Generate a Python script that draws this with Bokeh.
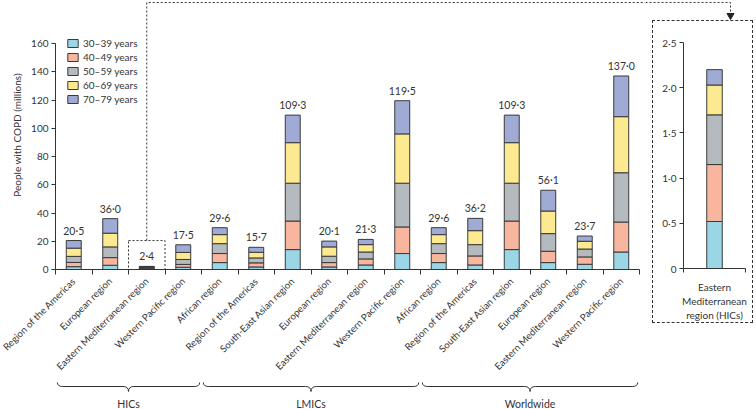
import numpy as np
from bokeh.plotting import figure
from bokeh.models import ColumnDataSource, Range1d, FixedTicker, Spacer
from bokeh.layouts import row, column
from bokeh.embed import file_html
from bokeh.resources import INLINE
from bokeh.core.properties import value

# ---------------- data ----------------
regions = ["Region of the Americas", "European region", "Eastern Mediterranean region",
           "Western Pacific region",
           "African region", "Region of the Americas", "South-East Asian region",
           "European region", "Eastern Mediterranean region", "Western Pacific region",
           "African region", "Region of the Americas", "South-East Asian region",
           "European region", "Eastern Mediterranean region", "Western Pacific region"]
groups = ["HICs"] * 4 + ["LMICs"] * 6 + ["Worldwide"] * 6
age_bands = ["30–39 years", "40–49 years", "50–59 years", "60–69 years", "70–79 years"]

age_30_39 = [2.0, 3.0, 0.52, 1.6, 4.9, 1.8, 14.1, 1.8, 3.2, 11.3, 4.9, 3.2, 14.1, 4.9, 3.7, 12.4]
age_40_49 = [3.0, 5.4, 0.63, 2.0, 6.4, 2.9, 20.2, 3.1, 4.3, 18.8, 6.4, 6.4, 20.2, 8.0, 5.2, 21.2]
age_50_59 = [4.3, 7.6, 0.55, 3.5, 7.0, 3.5, 26.8, 4.5, 4.9, 31.0, 7.0, 8.0, 26.8, 12.5, 5.6, 34.9]
age_60_69 = [5.8, 9.7, 0.33, 5.0, 6.4, 4.0, 28.7, 6.6, 5.2, 34.9, 6.4, 9.9, 28.7, 16.0, 5.5, 39.7]
age_70_79 = [5.4, 10.3, 0.17, 5.4, 4.9, 3.5, 19.5, 4.1, 3.7, 23.5, 4.9, 8.7, 19.5, 14.7, 3.7, 28.8]
totals = [20.5, 36.0, 2.4, 17.5, 29.6, 15.7, 109.3, 20.1, 21.3, 119.5, 29.6, 36.2, 109.3, 56.1, 23.7, 137.0]

main_ticks = [0, 20, 40, 60, 80, 100, 120, 140, 160]
highlight_index = 2          # Eastern Mediterranean region (HICs)
highlight_box_top = 20.5

inset_values = [0.52, 0.63, 0.55, 0.33, 0.17]
inset_ticks = [0, 0.5, 1.0, 1.5, 2.0, 2.5]
inset_label = "Eastern\nMediterranean\nregion (HICs)"

# ---------------- style ----------------
colors = ["#9bd6e6", "#f8b69e", "#b5babf", "#fde98f", "#9fabd5"]
FONT = "Lato"
TXT = "#333333"
EDGE = "#3a3a3a"


def fmt(v):
    return "0" if v == 0 else f"{v:.1f}".replace(".", "·")


cols = ["a1", "a2", "a3", "a4", "a5"]
n = len(regions)
xc = [i + 0.5 for i in range(n)]
src = ColumnDataSource(dict(x=xc, a1=age_30_39, a2=age_40_49, a3=age_50_59,
                            a4=age_60_69, a5=age_70_79, total=totals,
                            label=[fmt(t) for t in totals]))

# layout geometry (screen px)
W1 = 645
LEFT = 55
AXIS_W = 584                     # px spanned by the n categories
frame_h = 269
BOTTOM = 6
H1 = frame_h + BOTTOM
TOTAL_H = 409
px_per = 226 / 160
y_end = frame_h / px_per
x_end = n * (W1 - LEFT) / AXIS_W

p = figure(width=W1, height=H1, x_range=Range1d(0, x_end), y_range=Range1d(0, y_end),
           output_backend="svg", toolbar_location=None, frame_align=False,
           min_border_left=LEFT, min_border_right=0, min_border_top=0,
           min_border_bottom=BOTTOM)

p.vbar_stack(cols, x="x", width=0.41, fill_color=colors, line_color=EDGE, line_width=1,
             source=src, legend_label=age_bands)

p.text(x="x", y="total", text="label", source=src, text_align="center",
       text_baseline="bottom", y_offset=-4, text_font=value(FONT),
       text_font_size="10.5px", text_color=TXT)

# highlight box + connector
h = highlight_index
p.quad(left=[h], right=[h + 1], bottom=[0], top=[highlight_box_top], fill_color=None,
       line_color=TXT, line_dash="2 2", line_width=1)
conn_y = y_end - 2 / px_per
p.line(x=[h + 0.5, h + 0.5, x_end], y=[highlight_box_top, conn_y, conn_y],
       line_color=TXT, line_dash="2 2", line_width=1)

p.grid.visible = False
p.outline_line_color = None

xa = p.xaxis[0]
xa.ticker = FixedTicker(ticks=[], minor_ticks=list(range(n + 1)))
xa.major_tick_line_color = None
xa.minor_tick_in = 0
xa.minor_tick_out = 5
xa.minor_tick_line_color = TXT
xa.bounds = (0, n)
xa.major_label_standoff = 0
xa.axis_line_color = TXT

ya = p.yaxis[0]
ya.ticker = FixedTicker(ticks=main_ticks)
ya.bounds = (0, main_ticks[-1])
ya.minor_tick_line_color = None
ya.major_tick_in = 0
ya.major_tick_out = 4
ya.major_tick_line_color = TXT
ya.major_label_standoff = 3
ya.axis_line_color = TXT
ya.major_label_text_font = FONT
ya.major_label_text_font_size = "10px"
ya.major_label_text_color = TXT
ya.axis_label = "People with COPD (millions)"
ya.axis_label_text_font = FONT
ya.axis_label_text_color = TXT
ya.axis_label_text_font_style = "normal"
ya.axis_label_text_font_size = "10px"
ya.axis_label_standoff = 5

lg = p.legend[0]
lg.location = (11, 164)
lg.border_line_color = None
lg.background_fill_alpha = 0
lg.padding = 0
lg.margin = 0
lg.spacing = 2
lg.glyph_height = 10
lg.glyph_width = 13
lg.label_height = 10
lg.label_standoff = 4
lg.label_text_font = FONT
lg.label_text_font_size = "10px"
lg.label_text_color = TXT

# ---------------- category labels, braces, group labels ----------------
H2 = TOTAL_H - H1
bx_start = -LEFT * n / AXIS_W      # same x scale as the main plot, frame spanning full width
bf = figure(width=W1, height=H2, x_range=Range1d(bx_start, x_end), y_range=Range1d(H2, 0),
            x_axis_location=None, y_axis_location=None, output_backend="svg",
            toolbar_location=None, frame_align=False, min_border_left=0, min_border_right=0,
            min_border_top=0, min_border_bottom=0)
bf.grid.visible = False
bf.outline_line_color = None

label_y = 279 - H1
bf.text(x=xc, y=[label_y] * n, text=regions, angle=np.pi / 4, text_align="right",
        text_baseline="middle", text_font=value(FONT), text_font_size="9.6px",
        text_color=TXT)

group_names = []
for g in groups:
    if g not in group_names:
        group_names.append(g)
starts = [groups.index(g) for g in group_names]
ends = [len(groups) - groups[::-1].index(g) for g in group_names]
y_top, y_mid, y_bot = 382 - H1, 386 - H1, 391 - H1
d, pad = 0.15, 0.05
for a, b in zip(starts, ends):
    a2, b2, c = a + pad, b - pad, (a + b) / 2
    bf.quadratic(x0=[a2, c - d, c + d, b2 - d], y0=[y_top, y_mid, y_mid, y_mid],
                 x1=[a2 + d, c, c, b2], y1=[y_mid, y_bot, y_bot, y_top],
                 cx=[a2, c, c, b2], cy=[y_mid, y_mid, y_mid, y_mid],
                 line_color=TXT, line_width=1)
    bf.segment(x0=[a2 + d, c + d], y0=[y_mid, y_mid], x1=[c - d, b2 - d], y1=[y_mid, y_mid],
               line_color=TXT, line_width=1)
bf.text(x=[(a + b) / 2 for a, b in zip(starts, ends)], y=[403 - H1] * len(group_names),
        text=group_names, text_align="center", text_baseline="middle",
        text_font=value(FONT), text_font_size="10.5px", text_color=TXT)

# ---------------- connector arrow ----------------
CW, CH = 110, 20
arrow_x = 85
cf = figure(width=CW, height=CH, x_range=Range1d(0, CW), y_range=Range1d(0, CH),
            x_axis_location=None, y_axis_location=None, output_backend="svg",
            toolbar_location=None, frame_align=False, min_border_left=0, min_border_right=0,
            min_border_top=0, min_border_bottom=0)
cf.grid.visible = False
cf.outline_line_color = None
cf.line(x=[0, arrow_x, arrow_x], y=[CH - 2, CH - 2, 7], line_color=TXT, line_dash="2 2",
        line_width=1)
cf.scatter(x=[arrow_x], y=[5], marker="inverted_triangle", size=7, color="#222222")

# ---------------- inset ----------------
isrc = ColumnDataSource(dict(x=[0.5], a1=[inset_values[0]], a2=[inset_values[1]],
                             a3=[inset_values[2]], a4=[inset_values[3]], a5=[inset_values[4]]))
IW, IH = 101, 303
ins = figure(width=IW, height=IH, x_range=Range1d(0, 1), y_range=Range1d(0, 2.6),
             output_backend="svg", toolbar_location=None, frame_align=False,
             min_border_left=30, min_border_right=9, min_border_top=12, min_border_bottom=55,
             styles={"border": "1px dashed #333333"})
ins.vbar_stack(cols, x="x", width=0.25, fill_color=colors, line_color=EDGE, line_width=1,
               source=isrc)
ins.grid.visible = False
ins.outline_line_color = None
iya = ins.yaxis[0]
iya.ticker = FixedTicker(ticks=inset_ticks)
iya.major_label_overrides = {t: fmt(t) for t in inset_ticks}
iya.bounds = (0, inset_ticks[-1])
iya.minor_tick_line_color = None
iya.major_tick_in = 0
iya.major_tick_out = 4
iya.major_tick_line_color = TXT
iya.major_label_standoff = 3
ixa = ins.xaxis[0]
ixa.ticker = FixedTicker(ticks=[0.5], minor_ticks=[0, 1])
ixa.major_label_overrides = {0.5: inset_label}
ixa.major_tick_line_color = None
ixa.minor_tick_in = 0
ixa.minor_tick_out = 4
ixa.minor_tick_line_color = TXT
ixa.major_label_standoff = 6
for ax in ins.axis:
    ax.axis_line_color = TXT
    ax.major_label_text_font = FONT
    ax.major_label_text_font_size = "10px"
    ax.major_label_text_color = TXT

layout = row(column(p, bf), column(cf, row(Spacer(width=7, height=IH), ins)))

open("out.html", "w").write(file_html(layout, INLINE))
